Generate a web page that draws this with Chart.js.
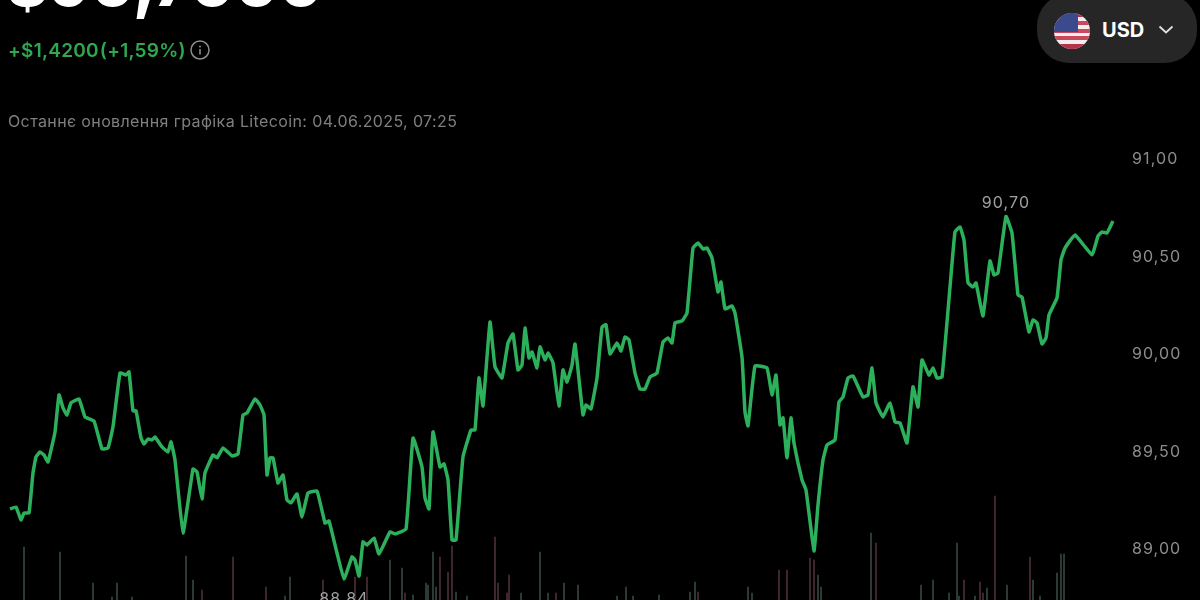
<!DOCTYPE html>
<html>
<head>
<meta charset="utf-8">
<title>Litecoin</title>
<script src="https://cdn.jsdelivr.net/npm/chart.js@4"></script>
<style>
  html, body { margin: 0; padding: 0; width: 1200px; height: 600px; background: #000; overflow: hidden; font-family: Inter, "Noto Sans", sans-serif; }
  #chartBox { position: absolute; left: 0; top: 0; width: 1200px; height: 600px; }
  .abs { position: absolute; white-space: nowrap; }
  #price { left: 6px; top: -56px; font-size: 64px; line-height: 78px; font-weight: 800; color: #fff; }
  #change { left: 8px; top: 40px; font-size: 19px; line-height: 22px; font-weight: 600; color: #2fa84f; letter-spacing: 0.25px; word-spacing: -4px; }
  #updated { left: 8px; top: 112px; font-size: 16px; line-height: 18px; color: #7f7f7f; letter-spacing: 0.38px; }
  #pill { left: 1037px; top: -6px; width: 160px; height: 69px; border-radius: 32px; background: #262626; }
  #usd { left: 1102px; top: 18px; font-size: 20px; line-height: 24px; font-weight: 700; color: #fff; }
</style>
</head>
<body>
<div id="chartBox"><canvas id="priceChart"></canvas></div>

<div class="abs" id="price">$90,7000</div>
<div class="abs" id="change">+$1,4200 (+1,59%)</div>
<svg class="abs" style="left:190px;top:40px" width="20" height="20">
  <circle cx="10" cy="10" r="9" fill="none" stroke="#8c8c8c" stroke-width="1.5"/>
  <circle cx="10" cy="6.5" r="1" fill="#8c8c8c"/>
  <rect x="9.2" y="9" width="1.6" height="5.5" fill="#8c8c8c"/>
</svg>
<div class="abs" id="updated">Останнє оновлення графіка Litecoin: 04.06.2025, 07:25</div>

<div class="abs" id="pill"></div>
<svg class="abs" style="left:1054px;top:13px" width="36" height="36">
  <defs><clipPath id="round"><circle cx="18" cy="18" r="18"/></clipPath></defs>
  <g clip-path="url(#round)">
    <rect width="36" height="36" fill="#f2eeee"/>
    <rect y="0" width="36" height="4" fill="#b5324a"/>
    <rect y="8" width="36" height="4" fill="#c9485e"/>
    <rect y="16" width="36" height="4" fill="#c9485e"/>
    <rect y="23" width="36" height="4" fill="#c9485e"/>
    <rect y="31" width="36" height="5" fill="#b5324a"/>
    <rect width="24" height="19" fill="#3b4a8c"/>
  </g>
</svg>
<div class="abs" id="usd">USD</div>
<svg class="abs" style="left:1158px;top:25px" width="16" height="10">
  <path d="M1.5 1.5 L8 7.5 L14.5 1.5" fill="none" stroke="#e0e0e0" stroke-width="1.8"/>
</svg>

<script>
//COLORS
var lineGreen = "#2cb05b";
var tickGray = "#8c8c8c";
var labelGray = "#a0a0a0";
var volumeUp = "#34473f";
var volumeDown = "#4a3036";

//DATA
// minutes since the start of the chart
var times = [
  0, 6, 11, 14, 19, 23, 26, 30, 34, 38, 45, 49, 53, 57, 61, 69, 75, 84, 92, 98,
  103, 110, 116, 119, 123, 126, 131, 134, 138, 142, 145, 152, 158, 161, 165, 173, 183, 187, 192, 195,
  203, 207, 213, 222, 228, 233, 237, 245, 250, 254, 257, 260, 263, 268, 273, 277, 281, 287, 292, 298,
  307, 315, 319, 327, 334, 342, 345, 349, 353, 357, 364, 369, 380, 385, 396, 403, 412, 415, 419, 423,
  430, 434, 438, 442, 446, 453, 461, 465, 469, 473, 480, 485, 492, 498, 503, 508, 512, 515, 519, 522,
  527, 530, 535, 538, 543, 549, 553, 557, 562, 565, 573, 576, 581, 587, 592, 596, 600, 607, 611, 615,
  619, 625, 630, 635, 640, 647, 653, 658, 662, 665, 672, 677, 683, 688, 693, 697, 702, 708, 711, 715,
  722, 725, 732, 735, 738, 745, 757, 762, 766, 770, 773, 777, 781, 784, 792, 796, 804, 808, 813, 817,
  825, 829, 833, 838, 843, 853, 858, 862, 866, 873, 880, 885, 890, 897, 903, 908, 912, 919, 923, 927,
  932, 940, 945, 950, 954, 958, 963, 966, 973, 980, 984, 988, 996, 1002, 1008, 1012, 1019, 1023, 1027, 1032,
  1036, 1039, 1047, 1051, 1055, 1065, 1082, 1088, 1092, 1097, 1103
];
var prices = [
  89.200, 89.210, 89.144, 89.179, 89.179, 89.385, 89.467, 89.492, 89.477, 89.441, 89.595, 89.785, 89.718, 89.682, 89.744, 89.764, 89.672, 89.651, 89.508, 89.513,
  89.621, 89.897, 89.887, 89.903, 89.703, 89.703, 89.564, 89.533, 89.559, 89.554, 89.569, 89.518, 89.492, 89.544, 89.451, 89.077, 89.405, 89.390, 89.251, 89.385,
  89.477, 89.462, 89.513, 89.472, 89.482, 89.682, 89.692, 89.764, 89.733, 89.682, 89.374, 89.462, 89.462, 89.333, 89.374, 89.246, 89.231, 89.277, 89.159, 89.282,
  89.292, 89.128, 89.138, 88.974, 88.840, 88.954, 88.938, 88.856, 89.031, 89.015, 89.051, 88.969, 89.082, 89.072, 89.097, 89.564, 89.415, 89.256, 89.200, 89.595,
  89.415, 89.431, 89.349, 89.041, 89.041, 89.467, 89.605, 89.605, 89.872, 89.728, 90.159, 89.928, 89.872, 90.051, 90.097, 89.913, 89.938, 90.128, 89.974, 90.005,
  89.923, 90.031, 89.964, 90.000, 89.949, 89.728, 89.913, 89.851, 89.938, 90.046, 89.682, 89.733, 89.713, 89.872, 90.133, 90.144, 89.995, 90.051, 90.010, 90.082,
  90.067, 89.897, 89.815, 89.815, 89.877, 89.897, 90.056, 90.077, 90.051, 90.154, 90.164, 90.205, 90.538, 90.564, 90.533, 90.538, 90.487, 90.313, 90.364, 90.226,
  90.241, 90.205, 89.979, 89.697, 89.626, 89.933, 89.923, 89.785, 89.887, 89.631, 89.667, 89.462, 89.667, 89.538, 89.349, 89.297, 88.985, 89.221, 89.451, 89.528,
  89.554, 89.749, 89.774, 89.872, 89.882, 89.774, 89.785, 89.923, 89.744, 89.672, 89.744, 89.646, 89.641, 89.538, 89.826, 89.723, 89.964, 89.887, 89.923, 89.872,
  89.877, 90.338, 90.621, 90.646, 90.579, 90.359, 90.338, 90.359, 90.190, 90.472, 90.400, 90.410, 90.700, 90.615, 90.297, 90.287, 90.108, 90.169, 90.154, 90.046,
  90.077, 90.195, 90.282, 90.477, 90.538, 90.605, 90.503, 90.600, 90.621, 90.615, 90.677
];

// volume bars, the tall ones run off the bottom of the picture
var upTimes = [14, 50, 83, 102, 107, 122, 176, 183, 275, 280, 380, 392, 403, 416, 418, 423, 426, 446, 457, 511, 530, 538, 554, 568, 607, 616, 623, 649, 680, 685, 738, 742, 808, 811, 861, 911, 923, 939, 947, 949, 965, 977, 997, 1023, 1030, 1047, 1051, 1054];
var upVolumes = [53, 48, 17, 3, 17, 3, 44, 20, 4, 23, 40, 32, 5, 17, 15, 48, 13, 8, 4, 7, 48, 7, 17, 15, 4, 13, 4, 5, 8, 18, 13, 7, 25, 13, 67, 15, 20, 7, 57, 4, 4, 12, 15, 20, 4, 27, 46, 46];
var downTimes = [192, 223, 256, 313, 345, 357, 395, 430, 438, 442, 485, 488, 497, 499, 546, 688, 769, 777, 800, 804, 866, 954, 970, 973, 985, 1020];
var downVolumes = [10, 43, 13, 20, 23, 23, 7, 43, 28, 54, 63, 17, 7, 25, 7, 8, 30, 30, 42, 40, 57, 20, 18, 7, 104, 43];

var yTicks = [91, 90.5, 90, 89.5, 89];

function toPoints(xs, ys) {
  var points = [];
  for (var i = 0; i < xs.length; i++) {
    points.push({ x: xs[i], y: ys[i] });
  }
  return points;
}

function formatPrice(v) {
  return v.toFixed(2).replace(".", ",");
}

//Labels over the highest point and under the lowest point
var extremeLabels = {
  id: "extremeLabels",
  beforeDraw: function (chart) {
    // the site's font runs wider than Inter
    chart.ctx.letterSpacing = "1.1px";
  },
  afterDatasetsDraw: function (chart) {
    var ctx = chart.ctx;
    var xScale = chart.scales.x;
    var yScale = chart.scales.y;
    var high = prices.indexOf(Math.max.apply(null, prices));
    var low = prices.indexOf(Math.min.apply(null, prices));
    ctx.save();
    ctx.font = "16px Inter, 'Noto Sans', sans-serif";
    ctx.fillStyle = labelGray;
    ctx.textAlign = "center";
    ctx.textBaseline = "middle";
    ctx.fillText(formatPrice(prices[high]), xScale.getPixelForValue(times[high]), yScale.getPixelForValue(prices[high]) - 13);
    ctx.fillText(formatPrice(prices[low]), xScale.getPixelForValue(times[low]), yScale.getPixelForValue(prices[low]) + 20);
    ctx.restore();
  }
};

var priceChart = new Chart(document.getElementById("priceChart"), {
  data: {
    datasets: [
      {
        type: "line",
        data: toPoints(times, prices),
        yAxisID: "y",
        borderColor: lineGreen,
        borderWidth: 3.5,
        pointRadius: 0,
        tension: 0.1,
        borderJoinStyle: "round",
        order: 1
      },
      {
        type: "bar",
        data: toPoints(upTimes, upVolumes),
        yAxisID: "volume",
        backgroundColor: volumeUp,
        barThickness: 1,
        grouped: false,
        order: 2
      },
      {
        type: "bar",
        data: toPoints(downTimes, downVolumes),
        yAxisID: "volume",
        backgroundColor: volumeDown,
        barThickness: 1,
        grouped: false,
        order: 2
      }
    ]
  },
  options: {
    responsive: true,
    maintainAspectRatio: false,
    animation: false,
    layout: { padding: 0 },
    plugins: { legend: { display: false }, tooltip: { enabled: false } },
    scales: {
      x: {
        type: "linear",
        min: -10,
        max: 1118,
        display: false,
        offset: false
      },
      y: {
        position: "right",
        min: 88.733,
        max: 91.81,
        border: { display: false },
        grid: { display: false, drawTicks: false },
        afterBuildTicks: function (axis) {
          axis.ticks = yTicks.map(function (v) { return { value: v }; });
        },
        afterFit: function (axis) {
          axis.width = 72;
          axis.paddingTop = 0;
          axis.paddingBottom = 0;
        },
        ticks: {
          color: tickGray,
          padding: 4,
          labelOffset: 1.5,
          autoSkip: false,
          font: { family: "Inter, 'Noto Sans', sans-serif", size: 16 },
          callback: function (v) { return formatPrice(v); }
        }
      },
      volume: {
        display: false,
        min: 0,
        max: 600
      }
    }
  },
  plugins: [extremeLabels]
});
</script>
</body>
</html>
